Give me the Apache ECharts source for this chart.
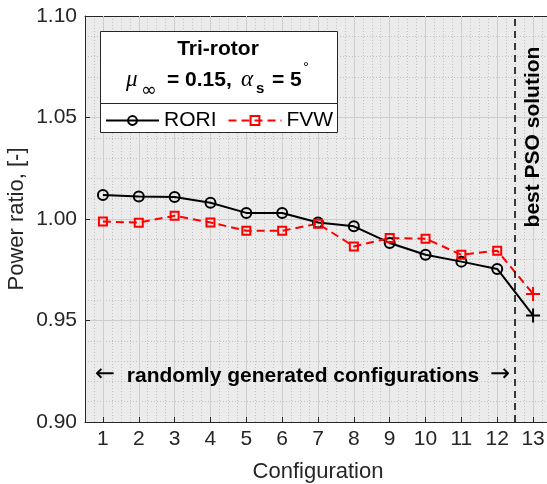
<!DOCTYPE html>
<html>
<head>
<meta charset="utf-8">
<script src="https://cdn.jsdelivr.net/npm/echarts@6/dist/echarts.min.js"></script>
<style>
html,body{margin:0;padding:0;background:#fff;}
#c{width:547px;height:484px;}
</style>
</head>
<body>
<div id="c"></div>
<script>
const configs = [1,2,3,4,5,6,7,8,9,10,11,12,13];
const roriValues = [1.0118,1.0111,1.0108,1.0080,1.0030,1.0030,0.9983,0.9964,0.9882,0.9824,0.9790,0.9754,0.9525];
const fvwValues  = [0.9988,0.9982,1.0016,0.9983,0.9942,0.9942,0.9977,0.9865,0.9906,0.9903,0.9824,0.9844,0.9631];
const yTicks = [0.90,0.95,1.00,1.05,1.10];
const bestIndex = 12;
const dividerX = 12.5;

const plusPath = 'path://M7,0L7,14M0,7L14,7';
const FONT = 'Liberation Sans';
const AX = '#262626';

function buildData(vals, color) {
  return vals.map((v, i) => {
    if (i === bestIndex) {
      return {value:[configs[i], v], symbol: plusPath, symbolSize: 14,
        itemStyle:{color:'transparent', borderColor: color, borderWidth: 2}};
    }
    return [configs[i], v];
  });
}

const chart = echarts.init(document.getElementById('c'), null, {renderer:'canvas'});
chart.setOption({
  animation: false,
  grid: {left:85, top:16, width:466, height:406, show:true, backgroundColor:'#ebebeb', borderWidth:0,
         outerBoundsMode:'none', containLabel:false},
  xAxis: [{
    type:'value', min:0.5, max:13.5,
    name:'Configuration', nameLocation:'middle', nameGap:39, nameMoveOverlap:false,
    nameTextStyle:{fontFamily:FONT, fontSize:22, color:AX},
    axisLine:{show:true, onZero:false, lineStyle:{color:AX, width:1}},
    axisTick:{show:true, inside:true, length:5, customValues:configs, lineStyle:{color:AX}},
    axisLabel:{customValues:configs, fontFamily:FONT, fontSize:21, color:AX, margin:7},
    splitLine:{show:true, lineStyle:{color:'#cdcdcd', width:1}},
    z: 1
  },{
    type:'value', min:0.5, max:13.5, interval:0.25, position:'top',
    axisLine:{show:true, onZero:false, lineStyle:{color:AX, width:1}},
    axisTick:{show:false}, axisLabel:{show:false},
    splitLine:{show:true, lineStyle:{color:'#c2c2c2', width:1, type:[1,2]}},
    z: 0
  }],
  yAxis: {
    type:'value', min:0.9, max:1.1, interval:0.05,
    name:'Power ratio, [-]', nameLocation:'middle', nameGap:57, nameMoveOverlap:false,
    nameTextStyle:{fontFamily:FONT, fontSize:22, color:AX},
    axisLine:{show:true, onZero:false, lineStyle:{color:AX, width:1}},
    axisTick:{show:true, inside:true, length:5, lineStyle:{color:AX}},
    axisLabel:{fontFamily:FONT, fontSize:21, color:AX, margin:8, formatter:v=>v.toFixed(2)},
    splitLine:{show:true, lineStyle:{color:'#cdcdcd', width:1}},
    minorTick:{show:false, splitNumber:5},
    minorSplitLine:{show:true, lineStyle:{color:'#c2c2c2', width:1, type:[1,2]}}
  },
  legend: {
    left:105, top:110, padding:0, itemWidth:53, itemHeight:11, itemGap:11,
    textStyle:{fontFamily:FONT, fontSize:21, color:'#000'},
    data:['RORI','FVW'], z: 6
  },
  graphic: [
    {type:'rect', z:5, shape:{x:100.5, y:31.5, width:237, height:101}, style:{fill:'#fff', stroke:AX, lineWidth:1}},
    {type:'line', z:5, shape:{x1:100.5, y1:103.5, x2:337.5, y2:103.5}, style:{stroke:AX, lineWidth:1}},
    {type:'text', z:6, x:218, y:49, style:{text:'Tri-rotor', font:'bold 21px "Liberation Sans"', fill:'#000', align:'center', verticalAlign:'middle'}},
    {type:'text', z:6, x:126, y:80, style:{text:'μ', font:'italic 23px "Liberation Serif"', fill:'#000', align:'left', verticalAlign:'middle'}},
    {type:'text', z:6, x:141, y:91, style:{text:'∞', font:'19px "DejaVu Sans"', fill:'#000', align:'left', verticalAlign:'middle'}},
    {type:'text', z:6, x:167, y:80, style:{text:'= 0.15,', font:'bold 21px "Liberation Sans"', fill:'#000', align:'left', verticalAlign:'middle'}},
    {type:'text', z:6, x:241, y:80, style:{text:'α', font:'italic 23px "Liberation Serif"', fill:'#000', align:'left', verticalAlign:'middle'}},
    {type:'text', z:6, x:256, y:89, style:{text:'s', font:'bold 15px "Liberation Sans"', fill:'#000', align:'left', verticalAlign:'middle'}},
    {type:'text', z:6, x:272, y:80, style:{text:'= 5', font:'bold 21px "Liberation Sans"', fill:'#000', align:'left', verticalAlign:'middle'}},
    {type:'text', z:6, x:303, y:68, style:{text:'°', font:'15px "Liberation Sans"', fill:'#000', align:'left', verticalAlign:'middle'}},
    {type:'text', z:6, x:95, y:375, style:{text:'←', font:'24px "DejaVu Sans"', fill:'#000', align:'left', verticalAlign:'middle'}},
    {type:'text', z:6, x:303, y:376, style:{text:'randomly generated configurations', font:'bold 21px "Liberation Sans"', fill:'#000', align:'center', verticalAlign:'middle'}},
    {type:'text', z:6, x:510, y:375, style:{text:'→', font:'24px "DejaVu Sans"', fill:'#000', align:'right', verticalAlign:'middle'}},
    {type:'text', z:6, x:533, y:137, rotation:Math.PI/2, style:{text:'best PSO solution', font:'bold 21px "Liberation Sans"', fill:'#000', align:'center', verticalAlign:'middle'}}
  ],
  series: [{
    name:'RORI', type:'line', xAxisIndex:0,
    data: buildData(roriValues, '#000'),
    symbol:'circle', symbolSize:10,
    itemStyle:{color:'transparent', borderColor:'#000', borderWidth:2},
    lineStyle:{color:'#000', width:2},
    z: 3,
    markLine:{silent:true, symbol:['none','none'], label:{show:false},
      lineStyle:{color:'#000', width:1.5, type:[7,5]},
      data:[{xAxis:dividerX}]}
  },{
    name:'FVW', type:'line', xAxisIndex:0,
    data: buildData(fvwValues, '#ff0000'),
    symbol:'rect', symbolSize:8,
    itemStyle:{color:'transparent', borderColor:'#ff0000', borderWidth:2},
    lineStyle:{color:'#ff0000', width:2, type:[8,5]},
    z: 3
  }]
});
</script>
</body>
</html>
